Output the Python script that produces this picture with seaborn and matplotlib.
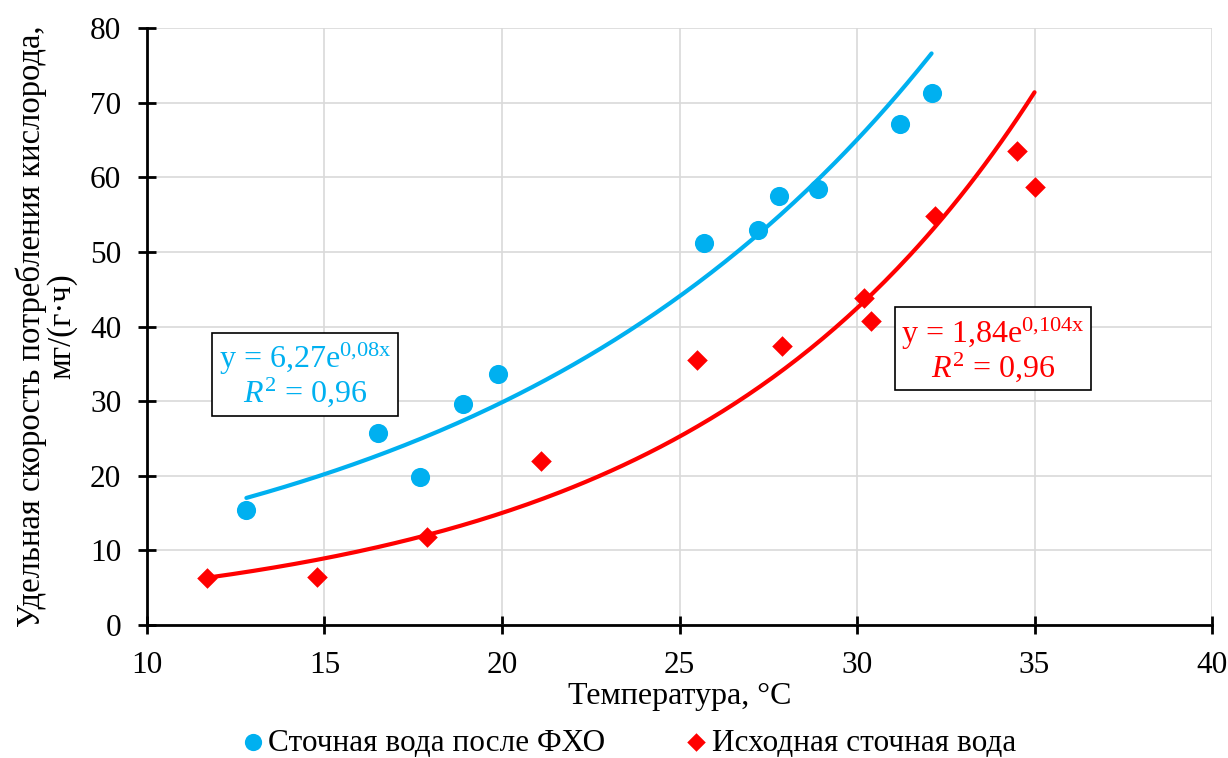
import matplotlib
matplotlib.use("Agg")
import matplotlib.pyplot as plt
import numpy as np
import pandas as pd
import seaborn as sns

# Данные
t_fho = [12.8, 16.5, 17.7, 18.9, 19.9, 25.7, 27.2, 27.8, 28.9, 31.2, 32.1]
v_fho = [15.4, 25.7, 19.8, 29.6, 33.6, 51.2, 53.0, 57.5, 58.4, 67.2, 71.3]

t_raw = [11.7, 14.8, 17.9, 21.1, 25.5, 27.9, 30.2, 30.4, 32.2, 34.5, 35.0]
v_raw = [6.3, 6.4, 11.8, 22.0, 35.5, 37.4, 43.8, 40.7, 54.8, 63.5, 58.7]

label_fho = "Сточная вода после ФХО"
label_raw = "Исходная сточная вода"
col_fho = "#00B0F0"
col_raw = "#FF0000"

sns.set_theme(style="whitegrid")
plt.rcParams["font.family"] = ["Liberation Serif", "DejaVu Serif"]
plt.rcParams["mathtext.fontset"] = "custom"
plt.rcParams["mathtext.rm"] = "Liberation Serif"
plt.rcParams["mathtext.it"] = "Liberation Serif:italic"
plt.rcParams["text.color"] = "black"
plt.rcParams["axes.labelcolor"] = "black"

fig = plt.figure(figsize=(12.28, 7.58), dpi=100)
ax = fig.add_axes([0.1197, 0.1755, 0.8673, 0.7875])

df_fho = pd.DataFrame({"t": t_fho, "v": v_fho})
df_raw = pd.DataFrame({"t": t_raw, "v": v_raw})


def exp_trend(df):
    """Экспоненциальная линия тренда (как в Excel)"""
    b, ln_a = np.polyfit(df["t"], np.log(df["v"]), 1)
    xs = np.linspace(df["t"].min(), df["t"].max(), 200)
    return pd.DataFrame({"t": xs, "v": np.exp(ln_a) * np.exp(b * xs)})


sns.lineplot(data=exp_trend(df_fho), x="t", y="v", color=col_fho, lw=3, ax=ax, zorder=2)
sns.lineplot(data=exp_trend(df_raw), x="t", y="v", color=col_raw, lw=3, ax=ax, zorder=2)

sns.scatterplot(data=df_fho, x="t", y="v", color=col_fho, marker="o", s=190,
                edgecolor=col_fho, linewidth=0, ax=ax, zorder=3, label=label_fho)
sns.scatterplot(data=df_raw, x="t", y="v", color=col_raw, marker="D", s=110,
                edgecolor=col_raw, linewidth=0, ax=ax, zorder=3, label=label_raw)

ax.set_xlim(10, 40)
ax.set_ylim(0, 80)
ax.set_xticks(range(10, 41, 5))
ax.set_yticks(range(0, 81, 10))
ax.grid(True, color="#D9D9D9", lw=1.2)
for side in ["top", "right"]:
    ax.spines[side].set_visible(False)
for side in ["left", "bottom"]:
    ax.spines[side].set_color("black")
    ax.spines[side].set_linewidth(2)
ax.tick_params(axis="both", labelsize=22.5, colors="black", direction="inout",
               length=13, width=2, left=True, bottom=True, pad=12)

ax.set_xlabel("Температура, °С", fontsize=23, labelpad=2)
ax.set_ylabel("Удельная скорость потребления кислорода,\nмг/(г·ч)", fontsize=23.5,
              labelpad=9, linespacing=1.0)

ax.text(14.45, 33.5, "y = 6,27e$^{\\mathrm{0{,}08x}}$\n$R^2$ = 0,96", color=col_fho, fontsize=23,
        ha="center", va="center", multialignment="center", linespacing=0.95,
        bbox=dict(boxstyle="square,pad=0.2", fc="white", ec="black", lw=1.2), zorder=5)
ax.text(33.83, 36.9, "y = 1,84e$^{\\mathrm{0{,}104x}}$\n$R^2$ = 0,96", color=col_raw, fontsize=23,
        ha="center", va="center", multialignment="center", linespacing=0.95,
        bbox=dict(boxstyle="square,pad=0.2", fc="white", ec="black", lw=1.2), zorder=5)

ax.legend(loc="center", bbox_to_anchor=(0.443, -0.198), ncol=2, frameon=False,
          fontsize=22.5, handletextpad=-0.5, columnspacing=1.9, markerscale=0.9,
          borderaxespad=0, borderpad=0.2)

fig.savefig("out.png", dpi=100)
